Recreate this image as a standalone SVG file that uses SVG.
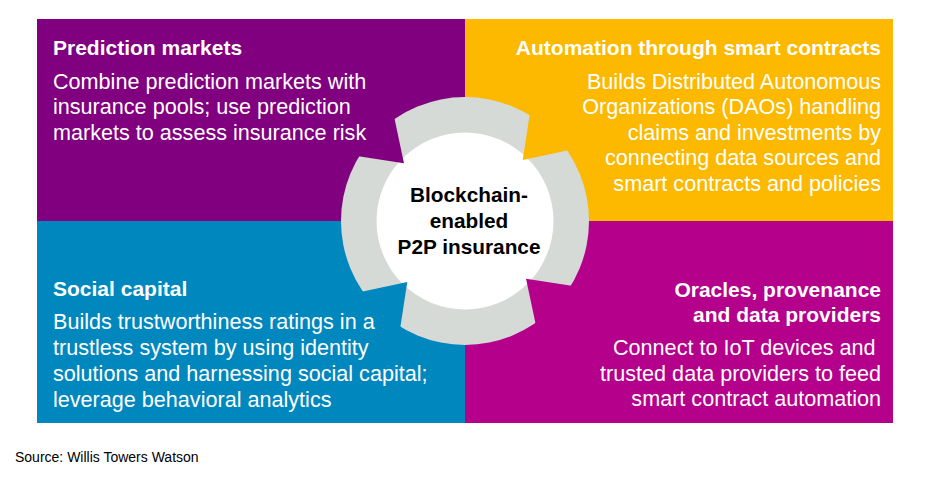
<svg xmlns="http://www.w3.org/2000/svg" width="929" height="477" viewBox="0 0 929 477">
  <style>
    .title { font-family: "Liberation Sans", Arial, Helvetica, sans-serif; font-weight: bold; font-size: 21px; fill: #ffffff; }
    .body { font-family: "Liberation Sans", Arial, Helvetica, sans-serif; font-size: 21.6px; fill: #ffffff; }
    .hub { font-family: "Liberation Sans", Arial, Helvetica, sans-serif; font-weight: bold; font-size: 20.8px; fill: #000000; text-anchor: middle; }
    .src { font-family: "Liberation Sans", Arial, Helvetica, sans-serif; font-size: 14px; fill: #000000; }
    .end { text-anchor: end; }
  </style>
  <defs>
    <!-- one notch, pointing along +x from the hub centre -->
    <polygon id="notch-shape" points="84,0 138.1,-37.4 138.1,37.4"/>
    <mask id="notch-mask" maskUnits="userSpaceOnUse" x="0" y="0" width="929" height="477">
      <rect x="0" y="0" width="929" height="477" fill="#ffffff"/>
      <g transform="translate(465 221)" fill="#000000">
        <use href="#notch-shape" transform="rotate(43.4)"/>
        <use href="#notch-shape" transform="rotate(133.4)"/>
        <use href="#notch-shape" transform="rotate(223.4)"/>
        <use href="#notch-shape" transform="rotate(313.4)"/>
      </g>
    </mask>
  </defs>

  <rect width="929" height="477" fill="#ffffff"/>

  <g id="prediction-markets">
    <rect x="37" y="19" width="428" height="202" fill="#800080"/>
    <text class="title" x="53" y="54.5">Prediction markets</text>
    <text class="body" x="53" y="88.5">Combine prediction markets with</text>
    <text class="body" x="53" y="114">insurance pools; use prediction</text>
    <text class="body" x="53" y="139.5">markets to assess insurance risk</text>
  </g>

  <g id="smart-contracts">
    <rect x="465" y="19" width="428" height="202" fill="#FDB800"/>
    <text class="title end" x="881" y="54.5">Automation through smart contracts</text>
    <text class="body end" x="881" y="88.5">Builds Distributed Autonomous</text>
    <text class="body end" x="881" y="114">Organizations (DAOs) handling</text>
    <text class="body end" x="881" y="139.5">claims and investments by</text>
    <text class="body end" x="881" y="165">connecting data sources and</text>
    <text class="body end" x="881" y="190.5">smart contracts and policies</text>
  </g>

  <g id="social-capital">
    <rect x="37" y="221" width="428" height="202" fill="#0087BE"/>
    <text class="title" x="53" y="296">Social capital</text>
    <text class="body" x="53" y="329">Builds trustworthiness ratings in a</text>
    <text class="body" x="53" y="355">trustless system by using identity</text>
    <text class="body" x="53" y="381">solutions and harnessing social capital;</text>
    <text class="body" x="53" y="407">leverage behavioral analytics</text>
  </g>

  <g id="oracles">
    <rect x="465" y="221" width="428" height="202" fill="#B5008C"/>
    <text class="title end" x="881" y="296.5">Oracles, provenance</text>
    <text class="title end" x="881" y="321.5">and data providers</text>
    <text class="body end" x="875.5" y="355">Connect to IoT devices and</text>
    <text class="body end" x="881" y="380.5">trusted data providers to feed</text>
    <text class="body end" x="881" y="406">smart contract automation</text>
  </g>

  <g id="hub">
    <g mask="url(#notch-mask)">
      <circle cx="465" cy="221" r="124" fill="#D6DAD7"/>
      <circle cx="465" cy="221" r="88.5" fill="#ffffff"/>
    </g>
    <text class="hub" x="469" y="201.5">Blockchain-</text>
    <text class="hub" x="469" y="227.5">enabled</text>
    <text class="hub" x="469" y="253.5">P2P insurance</text>
  </g>

  <g id="connectors"/>

  <text class="src" x="15" y="462">Source: Willis Towers Watson</text>
</svg>
